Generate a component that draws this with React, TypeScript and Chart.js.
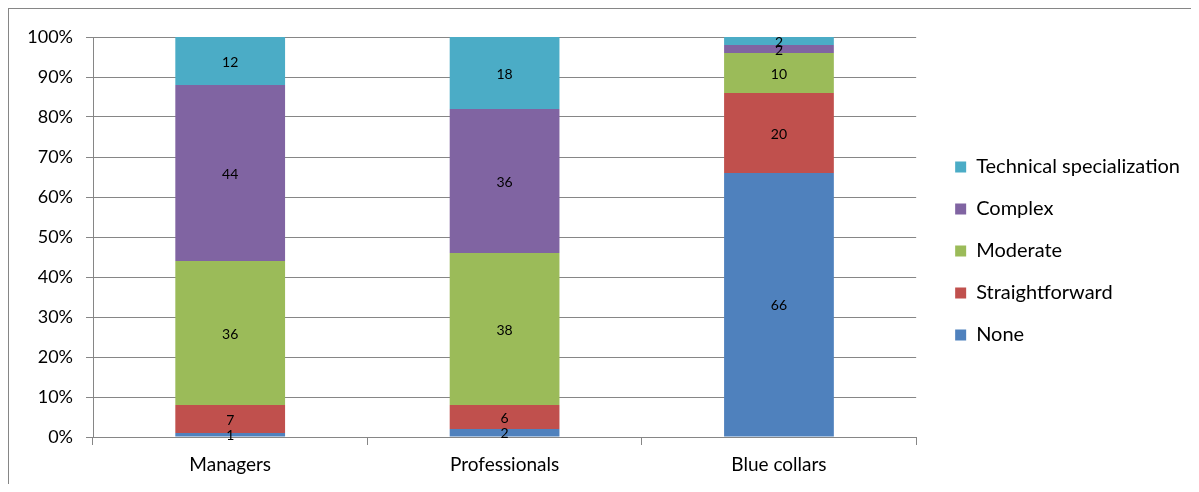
import React, { useEffect, useRef } from "react";
import { Chart, registerables } from "chart.js";

Chart.register(...registerables);

const categories = ["Managers", "Professionals", "Blue collars"];
const seriesNames = ["None", "Straightforward", "Moderate", "Complex", "Technical specialization"];
const noneValues = [1, 2, 66];
const straightforwardValues = [7, 6, 20];
const moderateValues = [36, 38, 10];
const complexValues = [44, 36, 2];
const technicalValues = [12, 18, 2];
const seriesColors = ["#4F81BD", "#C0504D", "#9BBB59", "#8064A2", "#4BACC6"];
const yTicks = [0, 10, 20, 30, 40, 50, 60, 70, 80, 90, 100];

const FONT = "Lato";
const GRID = "#868686";

const dataLabelPlugin = {
  id: "stackLabels",
  afterDatasetsDraw(chart: any) {
    const ctx = chart.ctx;
    ctx.save();
    ctx.font = `14px ${FONT}`;
    ctx.fillStyle = "#000";
    ctx.textAlign = "center";
    ctx.textBaseline = "middle";
    chart.data.datasets.forEach((ds: any, i: number) => {
      const meta = chart.getDatasetMeta(i);
      if (meta.hidden) return;
      meta.data.forEach((el: any, j: number) => {
        const v = ds.data[j];
        if (!v) return;
        const p = el.getProps(["x", "y", "base"], true);
        ctx.fillText(String(v), p.x, (p.y + p.base) / 2 + 1);
      });
    });
    ctx.restore();
  },
};

const legendNudgePlugin = {
  id: "legendNudge",
  afterLayout(chart: any) {
    const lg = chart.legend;
    if (!lg) return;
    lg.left += 17;
    lg.right += 17;
    lg.top -= 9.5;
    lg.bottom -= 9.5;
  },
};

export default function App() {
  const ref = useRef<HTMLCanvasElement | null>(null);
  useEffect(() => {
    let chart: Chart | null = null;
    let cancelled = false;
    const build = () => {
      if (cancelled || !ref.current) return;
      const values = [noneValues, straightforwardValues, moderateValues, complexValues, technicalValues];
      chart = new Chart(ref.current, {
        type: "bar",
        data: {
          labels: categories,
          datasets: seriesNames.map((name, i) => ({
            label: name,
            data: values[i],
            backgroundColor: seriesColors[i],
            borderWidth: 0,
            categoryPercentage: 1,
            barPercentage: 0.4,
          })),
        },
        options: {
          responsive: false,
          animation: false,
          events: [],
          layout: { padding: { top: 28, right: 26, bottom: 0, left: 0 } },
          plugins: {
            legend: {
              position: "right",
              reverse: true,
              labels: {
                boxWidth: 11,
                boxHeight: 11,
                padding: 22,
                color: "#000",
                font: { family: FONT, size: 20 },
              },
            },
            tooltip: { enabled: false },
          },
          scales: {
            x: {
              stacked: true,
              offset: true,
              grid: {
                display: true,
                offset: true,
                drawOnChartArea: false,
                drawTicks: true,
                tickLength: 8,
                color: GRID,
              },
              border: { display: true, color: GRID },
              ticks: { color: "#000", font: { family: FONT, size: 19 }, padding: 8 },
              afterFit: (s: any) => {
                s.height = 47;
              },
            },
            y: {
              stacked: true,
              min: 0,
              max: 100,
              afterBuildTicks: (s: any) => {
                s.ticks = yTicks.map((v) => ({ value: v }));
              },
              grid: { color: GRID, tickLength: 7, drawTicks: true },
              border: { display: true, color: GRID },
              ticks: {
                color: "#000",
                font: { family: FONT, size: 18 },
                padding: 13,
                callback: (v: any) => `${v}%`,
              },
              afterFit: (s: any) => {
                s.width = 84;
              },
            },
          },
        },
        plugins: [dataLabelPlugin, legendNudgePlugin],
      } as any);
    };
    const fontsReady = (document as any).fonts
      ? Promise.all([
          (document as any).fonts.load(`18px ${FONT}`),
          (document as any).fonts.load(`14px ${FONT}`),
        ]).catch(() => null)
      : Promise.resolve(null);
    fontsReady.then(build);
    return () => {
      cancelled = true;
      if (chart) chart.destroy();
    };
  }, []);

  return (
    <div
      style={{
        width: 1191,
        height: 475,
        borderTop: `1px solid ${GRID}`,
        borderLeft: `1px solid ${GRID}`,
        overflow: "hidden",
      }}
    >
      <canvas ref={ref} width={1190} height={475} style={{ display: "block" }} />
    </div>
  );
}
